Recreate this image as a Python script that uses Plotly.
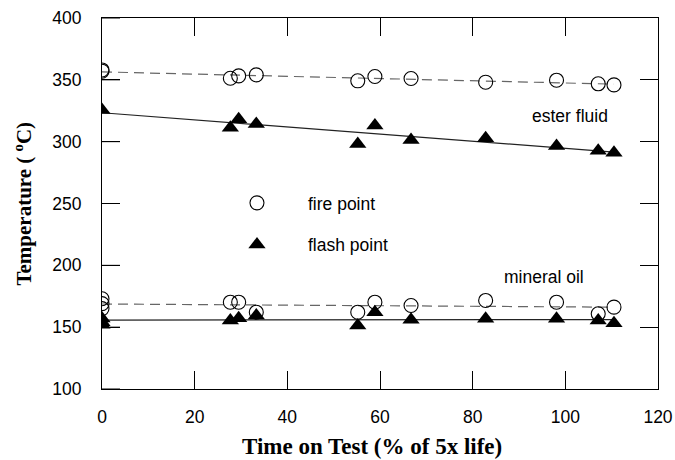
import numpy as np
import plotly.graph_objects as go

# ---- data ----
ester_fire_x = [0, 0, 27.7, 29.5, 33.3, 55.2, 58.9, 66.7, 82.8, 98.1, 107.1, 110.5]
ester_fire_y = [357, 358, 351.3, 353.2, 354.0, 349.2, 352.7, 351.1, 348.1, 349.7, 346.8, 345.9]

ester_flash_x = [0, 27.7, 29.5, 33.3, 55.2, 58.9, 66.7, 82.8, 98.1, 107.1, 110.5]
ester_flash_y = [325.7, 311.3, 318.1, 314.3, 298.1, 313.0, 301.3, 302.7, 296.5, 292.7, 291.0]

mineral_fire_x = [0, 0, 0, 27.7, 29.5, 33.3, 55.2, 58.9, 66.7, 82.8, 98.1, 107.1, 110.5]
mineral_fire_y = [173, 169, 165, 170.2, 170.2, 162.1, 162.1, 170.2, 167.5, 171.6, 170.2, 160.8, 166.2]

mineral_flash_x = [0, 0, 0, 27.7, 29.5, 33.3, 55.2, 58.9, 66.7, 82.8, 98.1, 107.1, 110.5]
mineral_flash_y = [157, 154, 152, 155.4, 157.3, 159.4, 151.3, 162.1, 155.9, 156.8, 156.8, 155.4, 153.2]

x_ticks = [0, 20, 40, 60, 80, 100, 120]
y_ticks = [100, 150, 200, 250, 300, 350, 400]

legend_labels = ["fire point", "flash point"]
series_labels = ["ester fluid", "mineral oil"]
x_title = "Time on Test (% of 5x life)"
y_title = "Temperature ( <sup>o</sup>C)"


def fit_line(xs, ys):
    slope, intercept = np.polyfit(xs, ys, 1)
    xe = np.array([min(xs), max(xs)])
    return xe, intercept + slope * xe


fig = go.Figure()

DASH_COLOR = "#666666"
SOLID_COLOR = "#222222"

for xs, ys, dash, col in [
    (ester_fire_x, ester_fire_y, "10px,6px", DASH_COLOR),
    (ester_flash_x, ester_flash_y, "solid", SOLID_COLOR),
    (mineral_fire_x, mineral_fire_y, "10px,6px", DASH_COLOR),
    (mineral_flash_x, mineral_flash_y, "solid", SOLID_COLOR),
]:
    lx, ly = fit_line(xs, ys)
    fig.add_trace(go.Scatter(x=lx, y=ly, mode="lines",
                             line=dict(color=col, width=1.2, dash=dash),
                             showlegend=False, hoverinfo="skip"))

circle = dict(symbol="circle-open", size=14, color="black", line=dict(width=1.1, color="black"))
tri = dict(symbol="triangle-up", size=15, color="black", line=dict(width=0))

fig.add_trace(go.Scatter(x=ester_fire_x, y=ester_fire_y, mode="markers", marker=circle,
                         name=legend_labels[0], legendgroup="a", showlegend=True))
fig.add_trace(go.Scatter(x=mineral_fire_x, y=mineral_fire_y, mode="markers", marker=circle,
                         name=legend_labels[0], legendgroup="a", showlegend=False))
fig.add_trace(go.Scatter(x=ester_flash_x, y=ester_flash_y, mode="markers", marker=tri,
                         name=legend_labels[1], legendgroup="b", showlegend=True))
fig.add_trace(go.Scatter(x=mineral_flash_x, y=mineral_flash_y, mode="markers", marker=tri,
                         name=legend_labels[1], legendgroup="b", showlegend=False))

# empty trace so the extra tick-only axes (top / right) get drawn
fig.add_trace(go.Scatter(x=[], y=[], xaxis="x2", yaxis="y2", showlegend=False, hoverinfo="skip"))

fig.add_annotation(x=101, y=321, text=series_labels[0], showarrow=False,
                   font=dict(family="Liberation Sans, Arial", size=17.5, color="black"))
fig.add_annotation(x=95.5, y=190.8, text=series_labels[1], showarrow=False,
                   font=dict(family="Liberation Sans, Arial", size=17.5, color="black"))

# axis titles
fig.add_annotation(xref="paper", yref="paper", x=0.4856, y=-0.155, text=x_title,
                   showarrow=False, xanchor="center", yanchor="middle",
                   font=dict(family="Liberation Serif, Times New Roman", size=23,
                             color="black", weight="bold"))
fig.add_annotation(xref="paper", yref="paper", x=-0.142, y=0.5, text=y_title,
                   showarrow=False, xanchor="center", yanchor="middle", textangle=-90,
                   font=dict(family="Liberation Serif, Times New Roman", size=21,
                             color="black", weight="bold"))

# left-edge inward ticks, one per y tick value (length as a fraction of the plot width)
TICK_FRAC = 18 / 556
for v in y_ticks:
    fig.add_shape(type="line", xref="x domain", yref="y", x0=0, x1=TICK_FRAC, y0=v, y1=v,
                  line=dict(color="black", width=1), layer="above")

tick_font = dict(family="Liberation Sans, Arial", size=17.5, color="black")
tick_style = dict(ticklen=18, tickwidth=1, tickcolor="black",
                  showgrid=False, zeroline=False)

fig.update_layout(
    xaxis=dict(range=[0, 120], tickvals=x_ticks, showline=True, linecolor="black",
               linewidth=1.2, mirror=True, tickfont=tick_font, ticklabelstandoff=12,
               ticks="inside", **tick_style),
    yaxis=dict(range=[100, 400], tickvals=y_ticks, showline=True, linecolor="black",
               linewidth=1.2, mirror=True, tickfont=tick_font, ticklabelstandoff=16,
               ticks="inside", **tick_style),
    xaxis2=dict(overlaying="x", side="top", matches="x", range=[0, 120], tickvals=x_ticks,
                showticklabels=False, showline=False, ticks="inside", **tick_style),
    yaxis2=dict(overlaying="y", side="right", matches="y", range=[100, 400], tickvals=y_ticks,
                showticklabels=False, showline=False, ticks="inside", **tick_style),
    width=675, height=460,
    margin=dict(l=102, r=17, t=18, b=71, autoexpand=False),
    plot_bgcolor="white", paper_bgcolor="white",
    legend=dict(x=0.187, y=0.55, xanchor="left", yanchor="top",
                font=dict(family="Liberation Sans, Arial", size=17.5, color="black"),
                itemwidth=92, tracegroupgap=16, bgcolor="rgba(0,0,0,0)",
                itemsizing="trace"),
    showlegend=True,
)

fig.write_html("out.html")
